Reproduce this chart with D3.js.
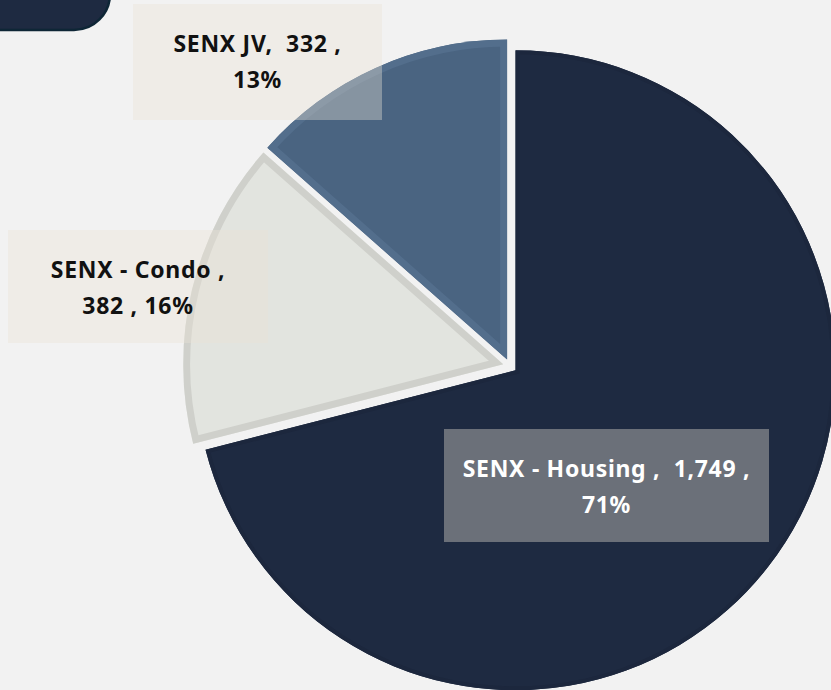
<!DOCTYPE html>
<html><head><meta charset="utf-8">
<script src="https://cdn.jsdelivr.net/npm/d3@7"></script>
<style>
html,body{margin:0;padding:0;background:#f2f2f2;}
svg{display:block;}
</style></head>
<body>
<svg id="chart" width="831" height="690"></svg>
<script>
// ---- data ----
const categories = ["SENX - Housing", "SENX - Condo", "SENX JV"];
const values = [1749, 382, 332];
const percents = [71, 16, 13];

// ---- styles / layout ----
const fills = ["#1e2a41", "#e2e4df", "#4a6481"];
const borders = ["#1c273d", "#cfd0cb", "#536e8c"];
const textColors = ["#ffffff", "#111111", "#111111"];
const labelBoxes = [ // x, y, w, h
  [444, 429, 325, 113],
  [8, 230, 260, 113],
  [133, 4, 249, 116]
];
const fmt = d3.format(",");
const labelLines = [
  [`${categories[0]} ,  ${fmt(values[0])} ,`, `${percents[0]}%`],
  [`${categories[1]} ,`, `${fmt(values[1])} , ${percents[1]}%`],
  [`${categories[2]},  ${fmt(values[2])} ,`, `${percents[2]}%`]
];

const svg = d3.select("#chart");
const W = 831, H = 690;
svg.append("rect").attr("width", W).attr("height", H).attr("fill", "#f2f2f2");

// top-left decoration
svg.append("rect").attr("x", -60).attr("y", -60).attr("width", 170).attr("height", 90)
  .attr("rx", 36).attr("ry", 36)
  .attr("fill", "#1e2a41").attr("stroke", "#0e2636").attr("stroke-width", 2.5);

const cx = 510, cy = 366, R = 320, explode = 7;
const pie = d3.pie().sort(null).startAngle(0).endAngle(2 * Math.PI);
const arcs = pie(values);
const arc = d3.arc().innerRadius(0).outerRadius(R);

const defs = svg.append("defs");
const g = svg.append("g");

arcs.forEach((a, i) => {
  const mid = (a.startAngle + a.endAngle) / 2;
  const dx = Math.sin(mid) * explode, dy = -Math.cos(mid) * explode;
  const sg = g.append("g").attr("transform", `translate(${cx + dx},${cy + dy})`);
  const dPath = arc(a);
  defs.append("clipPath").attr("id", "clip" + i).append("path").attr("d", dPath);
  sg.append("path").attr("d", dPath).attr("fill", fills[i]);
  sg.append("path").attr("d", dPath).attr("fill", "none")
    .attr("stroke", borders[i]).attr("stroke-width", i === 0 ? 8 : 14)
    .attr("stroke-linejoin", "miter")
    .attr("clip-path", `url(#clip${i})`);
});

// labels
const lg = svg.append("g");
labelBoxes.forEach((b, i) => {
  lg.append("rect").attr("x", b[0]).attr("y", b[1]).attr("width", b[2]).attr("height", b[3])
    .attr("fill", "rgb(234,226,214)").attr("fill-opacity", 0.38);
  const t = lg.append("text")
    .attr("x", b[0] + b[2] / 2)
    .attr("text-anchor", "middle")
    .attr("font-family", "'Noto Sans', 'DejaVu Sans', sans-serif")
    .attr("font-weight", 700)
    .attr("font-size", 23)
    .attr("letter-spacing", 0.7)
    .attr("fill", textColors[i])
    .style("white-space", "pre");
  labelLines[i].forEach((ln, j) => {
    t.append("tspan").attr("x", b[0] + b[2] / 2)
      .attr("y", b[1] + 48 + j * 36)
      .text(ln);
  });
});
</script>
</body></html>
